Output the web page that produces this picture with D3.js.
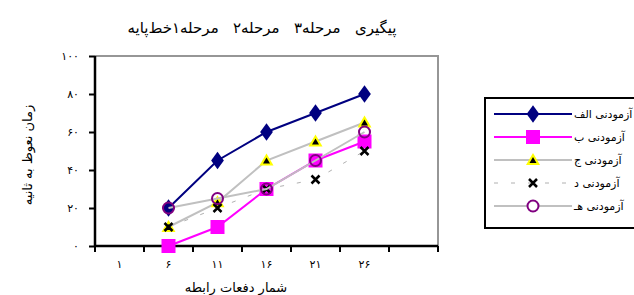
<!DOCTYPE html>
<html>
<head>
<meta charset="utf-8">
<script src="https://cdnjs.cloudflare.com/ajax/libs/d3/7.8.5/d3.min.js"></script>
<style>
  body { margin: 0; background: #fff; }
  text { font-family: 'DejaVu Sans', sans-serif; fill: #000; }
</style>
</head>
<body>
<div id="canvas"></div>
<script>
(function(d3){

  // categories (number of sessions) and tick labels
  var categories = ['۱', '۶', '۱۱', '۱۶', '۲۱', '۲۶', ''],
      yTicks = [0, 20, 40, 60, 80, 100],
      yTickLabels = ['۰', '۲۰', '۴۰', '۶۰', '۸۰', '۱۰۰'];

  // series values, one per category (null where nothing is drawn)
  var seriesNames = ['آزمودنی الف', 'آزمودنی ب', 'آزمودنی ج', 'آزمودنی د', 'آزمودنی هـ'],
      valuesA = [null, 20, 45, 60, 70, 80, null],
      valuesB = [null, 0, 10, 30, 45, 55, null],
      valuesC = [null, 10, 23, 45, 55, 65, null],
      valuesD = [null, 10, 20, 30, 35, 50, null],
      valuesE = [null, 20, 25, 30, 45, 60, null];

  var title = 'پیگیری   مرحله۳   مرحله۲   مرحله۱خط‌پایه',
      xTitle = 'شمار دفعات رابطه',
      yTitle = 'زمان نعوظ به ثانیه';

  var canvas_d = {width: 634, height: 295},
      plot = {left: 95, right: 438, top: 56, bottom: 246},
      canvas;

  var series = [
    {name: seriesNames[0], values: valuesA, line: '#000080', width: 2, dash: null, marker: 'diamond'},
    {name: seriesNames[1], values: valuesB, line: '#ff00ff', width: 2, dash: null, marker: 'square'},
    {name: seriesNames[2], values: valuesC, line: '#c0c0c0', width: 2, dash: null, marker: 'triangle'},
    {name: seriesNames[3], values: valuesD, line: '#b0b0b0', width: 1, dash: '4,13', marker: 'cross'},
    {name: seriesNames[4], values: valuesE, line: '#c0c0c0', width: 2, dash: null, marker: 'circle'}
  ];


  /**
   * Draw canvas.
   */
  canvas = d3.select('#canvas').append('svg')
      .attr('width', canvas_d.width)
      .attr('height', canvas_d.height);

  var x = d3.scaleBand()
      .domain(d3.range(categories.length))
      .range([plot.left, plot.right]);

  var y = d3.scaleLinear()
      .domain([0, 100])
      .range([plot.bottom, plot.top]);


  /**
   * Plot frame: gray top and right, black axes.
   */
  canvas.append('path')
      .attr('d', 'M' + plot.left + ',' + plot.top + 'H' + plot.right + 'V' + plot.bottom)
      .attr('fill', 'none')
      .attr('stroke', '#969696')
      .attr('stroke-width', 2);

  var yAxis = canvas.append('g')
      .attr('transform', 'translate(' + plot.left + ',0)')
      .call(d3.axisLeft(y)
        .tickValues(yTicks)
        .tickSize(6)
        .tickPadding(10)
        .tickFormat(function(d, i) { return yTickLabels[i]; }));

  var xAxis = canvas.append('g')
      .attr('transform', 'translate(0,' + plot.bottom + ')')
      .call(d3.axisBottom(x)
        .tickSize(0)
        .tickPadding(14)
        .tickFormat(function(d) { return categories[d]; }));

  // category boundaries carry the tick marks
  xAxis.selectAll('.bound')
      .data(d3.range(categories.length + 1))
    .enter().append('line')
      .attr('class', 'bound')
      .attr('x1', function(d) { return plot.left + d * x.step(); })
      .attr('x2', function(d) { return plot.left + d * x.step(); })
      .attr('y1', 0)
      .attr('y2', 6)
      .attr('stroke', '#000')
      .attr('stroke-width', 2);

  [yAxis, xAxis].forEach(function(g) {
    g.select('.domain').attr('stroke', '#000').attr('stroke-width', 2.5);
    g.selectAll('.tick line').attr('stroke', '#000').attr('stroke-width', 2);
    g.selectAll('text')
      .style('font-family', "'DejaVu Sans', sans-serif")
      .style('font-size', '11px')
      .attr('fill', '#000');
  });
  xAxis.select('.domain').attr('d', 'M' + plot.left + ',0H' + plot.right);
  yAxis.select('.domain').attr('d', 'M0,' + plot.bottom + 'V' + plot.top);


  /**
   * Titles.
   */
  canvas.append('text')
      .attr('x', 262)
      .attr('y', 33)
      .attr('text-anchor', 'middle')
      .attr('direction', 'rtl')
      .style('white-space', 'pre')
      .style('font-size', '15px')
      .text(title);

  canvas.append('text')
      .attr('x', 236)
      .attr('y', 292)
      .attr('text-anchor', 'middle')
      .style('font-size', '13px')
      .text(xTitle);

  canvas.append('text')
      .attr('transform', 'translate(32,155) rotate(-90)')
      .attr('text-anchor', 'middle')
      .style('font-size', '13px')
      .text(yTitle);


  /**
   * Markers.
   */
  function drawMarker(g, type) {
    if (type === 'diamond') {
      g.append('path').attr('d', d3.symbol(d3.symbolDiamond, 90)())
        .attr('transform', 'scale(1.25,1)')
        .attr('fill', '#000080');
    } else if (type === 'square') {
      g.append('rect').attr('x', -7).attr('y', -7).attr('width', 14).attr('height', 14)
        .attr('fill', '#ff00ff');
    } else if (type === 'triangle') {
      g.append('path').attr('d', 'M0,-7L7,5L-7,5Z').attr('fill', '#ffff00');
      g.append('path').attr('d', 'M0,-3L3.5,3L-3.5,3Z').attr('fill', '#000');
    } else if (type === 'cross') {
      g.append('path').attr('d', 'M-4,-4L4,4M-4,4L4,-4')
        .attr('stroke', '#000').attr('stroke-width', 2.5).attr('fill', 'none');
    } else if (type === 'circle') {
      g.append('circle').attr('r', 5.5)
        .attr('fill', 'none').attr('stroke', '#800080').attr('stroke-width', 2);
    }
  }


  /**
   * Draw chart content.
   */
  var line = d3.line()
      .defined(function(d) { return d !== null; })
      .x(function(d, i) { return x(i) + x.bandwidth() / 2; })
      .y(function(d) { return y(d); });

  series.forEach(function(s) {
    canvas.append('path')
        .datum(s.values)
        .attr('d', line)
        .attr('fill', 'none')
        .attr('stroke', s.line)
        .attr('stroke-width', s.width)
        .attr('stroke-dasharray', s.dash);

    s.values.forEach(function(d, i) {
      if (d === null) return;
      var g = canvas.append('g')
          .attr('transform', 'translate(' + (x(i) + x.bandwidth() / 2) + ',' + y(d) + ')');
      drawMarker(g, s.marker);
    });
  });


  /**
   * Legend.
   */
  var legend = canvas.append('g');

  legend.append('rect')
      .attr('x', 485)
      .attr('y', 98)
      .attr('width', 160)
      .attr('height', 130)
      .attr('fill', '#fff')
      .attr('stroke', '#000')
      .attr('stroke-width', 2);

  series.forEach(function(s, i) {
    var ly = 114 + i * 23;
    legend.append('line')
        .attr('x1', 494)
        .attr('x2', 572)
        .attr('y1', ly)
        .attr('y2', ly)
        .attr('stroke', s.line)
        .attr('stroke-width', s.width)
        .attr('stroke-dasharray', s.dash);
    var g = legend.append('g').attr('transform', 'translate(533,' + ly + ')');
    drawMarker(g, s.marker);
    if (s.marker === 'circle') g.select('circle').attr('fill', '#fff');
    legend.append('text')
        .attr('x', 574)
        .attr('y', ly + 4)
        .style('font-size', '11px')
        .text(s.name);
  });

})(d3);
</script>
</body>
</html>
